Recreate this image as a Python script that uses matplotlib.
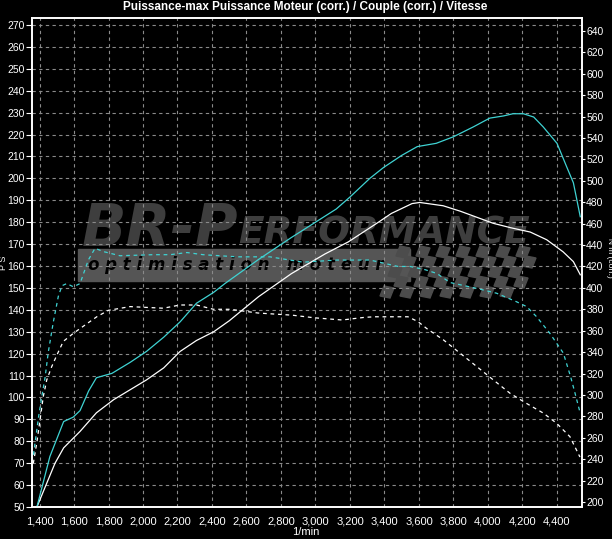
import matplotlib
matplotlib.use("Agg")
import matplotlib.pyplot as plt
from matplotlib.patches import Rectangle, Polygon
from matplotlib.ticker import FuncFormatter

# puissance (PS) : courbe optimisee (cyan) et courbe serie (blanc)
rpm_ps_opt = [1385, 1460, 1540, 1595, 1635, 1685, 1730, 1820, 1925, 2020, 2120, 2215, 2310, 2410,
              2475, 2670, 2860, 3000, 3120, 3200, 3315, 3395, 3500, 3590, 3700, 3800, 3915, 4010,
              4090, 4145, 4205, 4265, 4320, 4400, 4455, 4495, 4535]
ps_opt = [50, 73, 89, 91, 94, 103, 109, 111, 116, 121, 127.5, 134.5, 143, 148,
          152, 163, 173, 180, 186, 191.5, 200, 205, 210.5, 214.5, 216, 219, 223.5, 227.5,
          228.5, 229.5, 229.5, 228, 223.5, 216, 205.5, 198, 182.5]

rpm_ps_ser = [1385, 1490, 1540, 1635, 1730, 1830, 1925, 2020, 2120, 2215, 2310, 2410, 2500, 2670,
              2860, 3055, 3190, 3365, 3440, 3560, 3605, 3740, 3840, 4030, 4130, 4245, 4340, 4435,
              4495, 4535]
ps_ser = [50, 70, 77, 84.5, 93, 99, 103.5, 108, 113.5, 121, 126, 130, 135, 146,
          156.5, 165.5, 171, 180, 184, 188.5, 189, 187.5, 185, 179.5, 177.5, 175.5, 172, 166.5,
          162, 156]

# couple (Nm) : optimise (cyan pointille) et serie (blanc pointille)
rpm_nm_opt = [1365, 1395, 1413, 1432, 1451, 1480, 1509, 1530, 1558, 1596, 1635, 1683, 1722, 1768,
              1867, 2058, 2157, 2255, 2348, 2545, 2736, 2928, 3125, 3316, 3478, 3548, 3635, 3703,
              3780, 3935, 4050, 4166, 4224, 4282, 4359, 4437, 4479, 4504, 4533]
nm_opt = [244, 280, 298, 316, 340, 368, 392, 402, 404, 401, 404, 426, 437, 434,
          430, 431, 431, 433, 431, 429, 429, 424, 426, 426, 420, 420, 417, 413.5,
          405, 399.5, 395, 387, 382.5, 373, 357.5, 339, 317, 302, 284]

rpm_nm_ser = [1364, 1384, 1403, 1422, 1442, 1471, 1500, 1538, 1596, 1635, 1732, 1799, 1925, 2118,
              2214, 2311, 2408, 2504, 2667, 2864, 2997, 3154, 3287, 3345, 3536, 3594, 3645, 3741,
              3838, 3935, 4031, 4128, 4224, 4321, 4398, 4475, 4533]
nm_ser = [236, 255, 276.5, 298.5, 314, 326.5, 337, 350, 357.5, 362, 373, 379, 382.5, 381,
          384, 384, 380, 380, 376.5, 374.5, 372, 370, 372.5, 373, 373, 368.5, 362, 351.5,
          339, 326.5, 314, 301.5, 292, 283, 273.5, 261, 242]

title = "Puissance-max Puissance Moteur (corr.) / Couple (corr.) / Vitesse"
x_ticks = list(range(1400, 4401, 200))
ps_ticks = list(range(50, 271, 10))
nm_ticks = list(range(200, 641, 20))

CYAN = "#3fd3d3"
GRID = "#8a8a8a"
plt.rcParams["font.family"] = ["Liberation Sans Narrow", "Liberation Sans", "DejaVu Sans"]

W, H = 612, 539
def fx(x):
    return x / W
def fy(y):
    return 1 - y / H

fig = plt.figure(figsize=(W / 100, H / 100), dpi=100, facecolor="black")
ax = fig.add_axes([fx(32), fy(507), (582 - 32) / W, (507 - 18) / H])
ax.set_facecolor("black")
ax2 = ax.twinx()

# logo en filigrane
logo = "#3e3e3e"
ax.text(fx(82), fy(229), "BR-P", transform=fig.transFigure, fontsize=42, style="italic",
        weight="bold", color=logo, family="DejaVu Sans", va="center", ha="left", zorder=0.2)
ax.text(fx(238), fy(233), "ERFORMANCE", transform=fig.transFigure, fontsize=27, style="italic",
        weight="bold", color=logo, family="DejaVu Sans", va="center", ha="left", zorder=0.2)
ax.add_patch(Rectangle((fx(78), fy(281)), (410 - 78) / W, 32 / H, transform=fig.transFigure,
                       color="#555555", zorder=0.1))
ax.text(fx(88), fy(265), "o p t i m i s a t i o n   m o t e u r", transform=fig.transFigure,
        fontsize=12, style="italic", weight="bold", color="black", family="DejaVu Sans",
        va="center", ha="left", zorder=0.3)
sq = 10
for i in range(14):
    for j in range(5):
        if (i + j) % 2:
            continue
        x0 = 400 + i * sq - j * 4
        y0 = 246 + j * sq
        pts = [(fx(x0), fy(y0)), (fx(x0 + sq), fy(y0 + 2)), (fx(x0 + sq - 4), fy(y0 + sq + 2)),
               (fx(x0 - 4), fy(y0 + sq))]
        ax.add_patch(Polygon(pts, closed=True, transform=fig.transFigure, color="#4c4c4c",
                             zorder=0.15))

ax.plot(rpm_ps_ser, ps_ser, color="white", lw=0.9, zorder=3)
ax.plot(rpm_ps_opt, ps_opt, color=CYAN, lw=0.9, zorder=3)
ax2.plot(rpm_nm_ser, nm_ser, color="white", lw=0.9, ls=(0, (3, 3)))
ax2.plot(rpm_nm_opt, nm_opt, color=CYAN, lw=0.9, ls=(0, (3, 3)))

ax.set_xlim(1356.5, 4545)
ax.set_ylim(50, 273.2)
ax2.set_ylim(195.3, 652.1)
ax.set_xticks(x_ticks)
ax.xaxis.set_major_formatter(FuncFormatter(lambda v, p: f"{int(v):,}"))
ax.set_yticks(ps_ticks)
ax2.set_yticks(nm_ticks)

ax.set_axisbelow(True)
ax.grid(True, color=GRID, ls=(0, (3, 3)), lw=0.8)
for a in (ax, ax2):
    for s in a.spines.values():
        s.set_color("white")
        s.set_linewidth(1.2)
ax.tick_params(axis="y", colors="white", labelsize=7.5, length=4, pad=1)
ax.tick_params(axis="x", colors="white", labelsize=8, length=0, pad=7)
ax2.tick_params(axis="y", colors="white", labelsize=7.5, length=2.5, pad=0.5)

fig.text(fx(305), fy(7), title, color="white", fontsize=8.5, weight="bold", ha="center", va="center")
fig.text(fx(4), fy(263), "P S", color="white", fontsize=6.5, rotation=90, ha="center", va="center")
fig.text(fx(609), fy(258), "N m (corr.)", color="white", fontsize=6, rotation=-90,
         ha="center", va="center")
fig.text(fx(306), fy(532), "1/min", color="white", fontsize=8, ha="center", va="center")

fig.savefig("out.png", dpi=100, facecolor="black")
